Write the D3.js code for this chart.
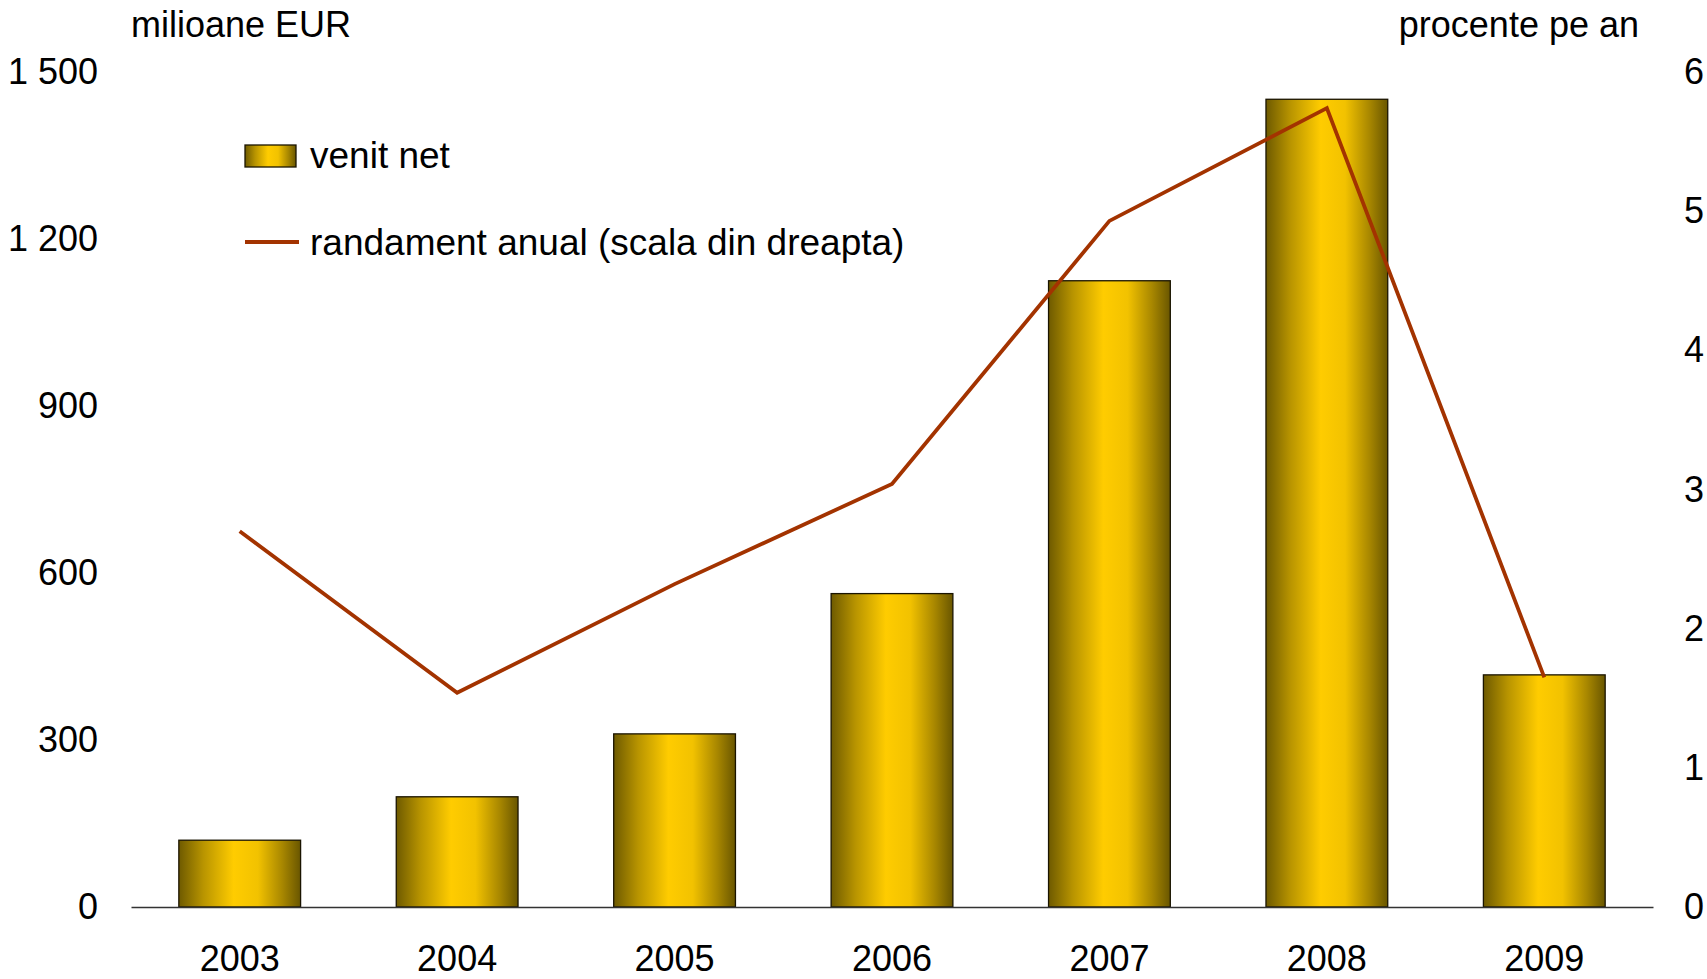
<!DOCTYPE html>
<html>
<head>
<meta charset="utf-8">
<script src="https://cdn.jsdelivr.net/npm/d3@7"></script>
<style>
  html, body { margin: 0; padding: 0; background: #fff; }
  svg text { font-family: "Liberation Sans", Arial, sans-serif; fill: #000; }
</style>
</head>
<body>
<svg id="chart" width="1707" height="979"></svg>
<script>
const years = ["2003", "2004", "2005", "2006", "2007", "2008", "2009"];
const venitNet = [120, 198, 311, 563, 1125, 1451, 417];
const randament = [2.70, 1.54, 2.32, 3.04, 4.93, 5.74, 1.65];
const leftTicks = [0, 300, 600, 900, 1200, 1500];
const rightTicks = [0, 1, 2, 3, 4, 5, 6];
const leftTitle = "milioane EUR";
const rightTitle = "procente pe an";
const legendLabels = ["venit net", "randament anual (scala din dreapta)"];

const svg = d3.select("#chart");
const FONT = 36;
const LFONT = 37;
const x0 = 131, x1 = 1653, yBase = 907, yTop = 72;

const x = d3.scaleBand().domain(years).range([x0, x1]).paddingInner(0.44).paddingOuter(0.22);
const yL = d3.scaleLinear().domain([0, 1500]).range([yBase, yTop]);
const yR = d3.scaleLinear().domain([0, 6]).range([yBase, yTop]);

const loc = d3.formatLocale({decimal: ",", thousands: "\u00a0", grouping: [3], currency: ["", ""]});
const fmt = loc.format(",d");

// gradient
const defs = svg.append("defs");
const g = defs.append("linearGradient").attr("id", "gold").attr("x1", "0%").attr("x2", "100%").attr("y1", "0%").attr("y2", "0%");
g.append("stop").attr("offset", "0%").attr("stop-color", "#6e5a00");
g.append("stop").attr("offset", "20%").attr("stop-color", "#b89400");
g.append("stop").attr("offset", "45%").attr("stop-color", "#ffcc00");
g.append("stop").attr("offset", "65%").attr("stop-color", "#f2c200");
g.append("stop").attr("offset", "85%").attr("stop-color", "#a88700");
g.append("stop").attr("offset", "100%").attr("stop-color", "#695600");

// bars
svg.append("g").selectAll("rect").data(years).join("rect")
  .attr("x", d => x(d))
  .attr("y", (d, i) => yL(venitNet[i]))
  .attr("width", x.bandwidth())
  .attr("height", (d, i) => yBase - yL(venitNet[i]))
  .attr("fill", "url(#gold)")
  .attr("stroke", "#1a1400")
  .attr("stroke-width", 1.3);

// baseline axis
const xAxis = d3.axisBottom(x).tickSize(0).tickPadding(38);
const xg = svg.append("g").attr("transform", `translate(0,${yBase})`).call(xAxis);
xg.select(".domain").attr("stroke", "#333").attr("stroke-width", 1.3);
xg.selectAll("text").style("font-size", FONT + "px").attr("fill", "#000");

// left axis labels
const lg = svg.append("g").attr("transform", `translate(98,0)`)
  .call(d3.axisLeft(yL).tickValues(leftTicks).tickSize(0).tickPadding(0).tickFormat(fmt));
lg.select(".domain").remove();
lg.selectAll("text").style("font-size", FONT + "px").attr("fill", "#000");

// right axis labels
const rg = svg.append("g").attr("transform", `translate(1684,0)`)
  .call(d3.axisRight(yR).tickValues(rightTicks).tickSize(0).tickPadding(0).tickFormat(d3.format("d")));
rg.select(".domain").remove();
rg.selectAll("text").style("font-size", FONT + "px").attr("fill", "#000");

// line
const line = d3.line()
  .x((d, i) => x(years[i]) + x.bandwidth() / 2)
  .y(d => yR(d));
svg.append("path").datum(randament)
  .attr("d", line)
  .attr("fill", "none")
  .attr("stroke", "#a33300")
  .attr("stroke-width", 3.8)
  .attr("stroke-linejoin", "miter");

// titles
svg.append("text").attr("x", x0).attr("y", 37).style("font-size", FONT + "px").text(leftTitle);
svg.append("text").attr("x", 1639).attr("y", 37).attr("text-anchor", "end").style("font-size", FONT + "px").text(rightTitle);

// legend
const leg = svg.append("g");
leg.append("rect").attr("x", 245).attr("y", 145).attr("width", 51).attr("height", 22)
  .attr("fill", "url(#gold)").attr("stroke", "#1a1400").attr("stroke-width", 1.3);
leg.append("text").attr("x", 310).attr("y", 155).attr("dy", "0.35em").style("font-size", LFONT + "px").text(legendLabels[0]);
leg.append("line").attr("x1", 245).attr("x2", 299).attr("y1", 242).attr("y2", 242)
  .attr("stroke", "#a33300").attr("stroke-width", 3.8);
leg.append("text").attr("x", 310).attr("y", 242).attr("dy", "0.35em").style("font-size", LFONT + "px").text(legendLabels[1]);
</script>
</body>
</html>
